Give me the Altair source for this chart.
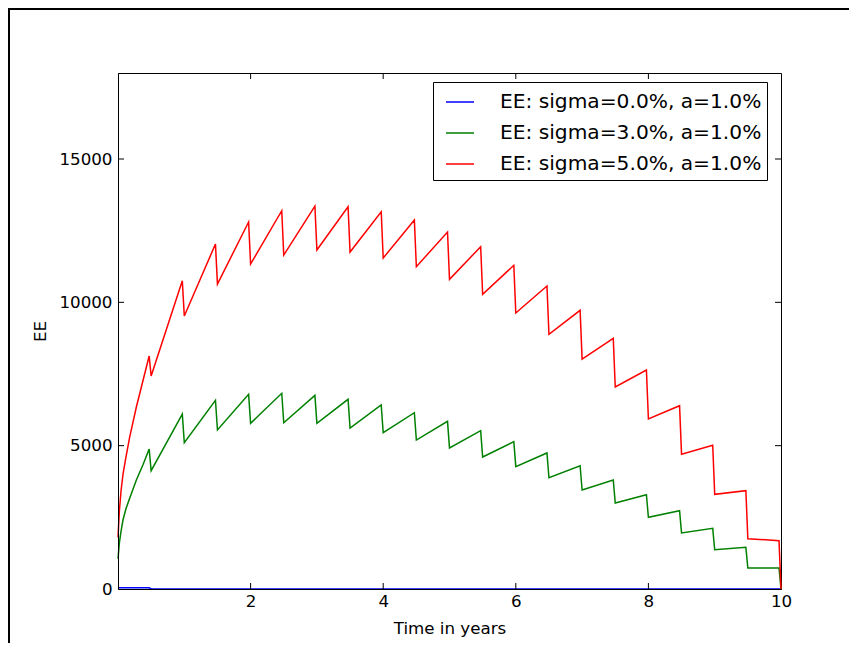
import altair as alt
import pandas as pd

labels = ["EE: sigma=0.0%, a=1.0%", "EE: sigma=3.0%, a=1.0%", "EE: sigma=5.0%, a=1.0%"]
colors = ["#0000ff", "#008000", "#ff0000"]

# times of the half-yearly jumps
jump_times = [0.5, 1.0, 1.5, 2.0, 2.5, 3.0, 3.5, 4.0, 4.5, 5.0,
              5.5, 6.0, 6.5, 7.0, 7.5, 8.0, 8.5, 9.0, 9.5, 10.0]

# first (rising) segment
first_t = [0.0, 0.02, 0.045, 0.075, 0.12, 0.176, 0.277, 0.38]
green_first = [1050, 1600, 2000, 2407, 2800, 3164, 3802, 4350]
red_first = [1800, 2700, 3400, 4000, 4600, 5300, 6350, 7300]

# values just before and just after each jump
green_peaks = [4883, 6104, 6582, 6791, 6826, 6756, 6617, 6418, 6150, 5848,
               5522, 5139, 4745, 4301, 3802, 3290, 2731, 2117, 1454, 732]
green_troughs = [4126, 5103, 5546, 5780, 5801, 5780, 5616, 5452, 5197, 4918,
                 4604, 4267, 3882, 3453, 3000, 2501, 1953, 1371, 732, 0]
red_peaks = [8127, 10754, 12034, 12801, 13196, 13359, 13335, 13161, 12871, 12452,
             11940, 11291, 10569, 9721, 8744, 7639, 6394, 5012, 3429, 1685]
red_troughs = [7430, 9522, 10638, 11336, 11650, 11824, 11754, 11545, 11242, 10802,
               10279, 9627, 8884, 8022, 7046, 5930, 4698, 3303, 1755, 0]

blue_t = [0.0, 0.47, 0.5, 10.0]
blue_v = [40, 40, 0, 0]

x_ticks = [2, 4, 6, 8]
y_ticks = [5000, 10000, 15000]

rows = []
for i, (t, v) in enumerate(zip(blue_t, blue_v)):
    rows.append({"series": labels[0], "t": t, "v": v, "o": i})


def add_saw(label, f_vals, peaks, troughs):
    o = 0
    for t, v in zip(first_t, f_vals):
        rows.append({"series": label, "t": t, "v": v, "o": o})
        o += 1
    for jt, p, tr in zip(jump_times, peaks, troughs):
        rows.append({"series": label, "t": jt - 0.03, "v": p, "o": o})
        o += 1
        rows.append({"series": label, "t": jt, "v": tr, "o": o})
        o += 1


add_saw(labels[1], green_first, green_peaks, green_troughs)
add_saw(labels[2], red_first, red_peaks, red_troughs)
df = pd.DataFrame(rows)

W, H = 663, 516
FONT = "DejaVu Sans"

xs = alt.Scale(domain=[0, 10], nice=False, zero=False)
ys = alt.Scale(domain=[0, 18000], nice=False, zero=False)

xaxis = alt.Axis(values=[2, 4, 6, 8, 10], format="d", ticks=False, grid=False,
                 labelFont=FONT, labelFontSize=16.7, labelColor="black",
                 labelPadding=4, labelFlush=False, domainColor="black",
                 title="Time in years", titleFont=FONT, titleFontSize=16.7,
                 titleFontWeight="normal", titleColor="black", titlePadding=11,
                 zindex=1)
yaxis = alt.Axis(values=[0, 5000, 10000, 15000], format="d", ticks=False, grid=False,
                 labelFont=FONT, labelFontSize=16.7, labelColor="black",
                 labelPadding=6, labelFlush=False, domainColor="black",
                 title="EE", titleFont=FONT, titleFontSize=16.7,
                 titleFontWeight="normal", titleColor="black", titlePadding=9,
                 zindex=1)

lines = alt.Chart(df).mark_line(strokeWidth=1.5, clip=False).encode(
    x=alt.X("t:Q", scale=xs, axis=xaxis),
    y=alt.Y("v:Q", scale=ys, axis=yaxis),
    color=alt.Color("series:N", scale=alt.Scale(domain=labels, range=colors),
                    legend=alt.Legend(title=None, orient="none", legendX=315, legendY=9,
                                      direction="vertical", symbolType="stroke",
                                      symbolSize=784, symbolStrokeWidth=1.5,
                                      symbolOffset=7, labelOffset=25,
                                      labelFont=FONT, labelFontSize=20.2, labelColor="black",
                                      labelLimit=500, strokeColor="black", fillColor="white",
                                      padding=5, rowPadding=5, cornerRadius=0)),
    order="o:Q",
)

xt = pd.DataFrame({"t": x_ticks})
yt = pd.DataFrame({"v": y_ticks})

bottom_ticks = alt.Chart(xt).mark_rule(color="black", strokeWidth=1).encode(
    x=alt.X("t:Q", scale=xs, axis=xaxis), y=alt.value(H), y2=alt.value(H - 6))
top_ticks = alt.Chart(xt).mark_rule(color="black", strokeWidth=1).encode(
    x=alt.X("t:Q", scale=xs, axis=xaxis), y=alt.value(0), y2=alt.value(6))
left_ticks = alt.Chart(yt).mark_rule(color="black", strokeWidth=1).encode(
    y=alt.Y("v:Q", scale=ys, axis=yaxis), x=alt.value(0), x2=alt.value(6))
right_ticks = alt.Chart(yt).mark_rule(color="black", strokeWidth=1).encode(
    y=alt.Y("v:Q", scale=ys, axis=yaxis), x=alt.value(W), x2=alt.value(W - 6))

one = pd.DataFrame({"a": [0]})
frame_left = alt.Chart(one).mark_rule(color="black", strokeWidth=2).encode(
    x=alt.value(-109), y=alt.value(-65), y2=alt.value(H + 70))
frame_top = alt.Chart(one).mark_rule(color="black", strokeWidth=2).encode(
    y=alt.value(-64), x=alt.value(-110), x2=alt.value(W + 70))

chart = alt.layer(lines, bottom_ticks, top_ticks, left_ticks,
                  right_ticks, frame_left, frame_top).properties(
    width=W, height=H,
    padding={"left": 110, "top": 65, "right": 68, "bottom": 54},
    autosize=alt.AutoSizeParams(type="none"),
    background="white",
).configure_view(stroke="black", strokeWidth=1)

chart.save("out.html", embed_options={"renderer": "svg", "actions": False})
